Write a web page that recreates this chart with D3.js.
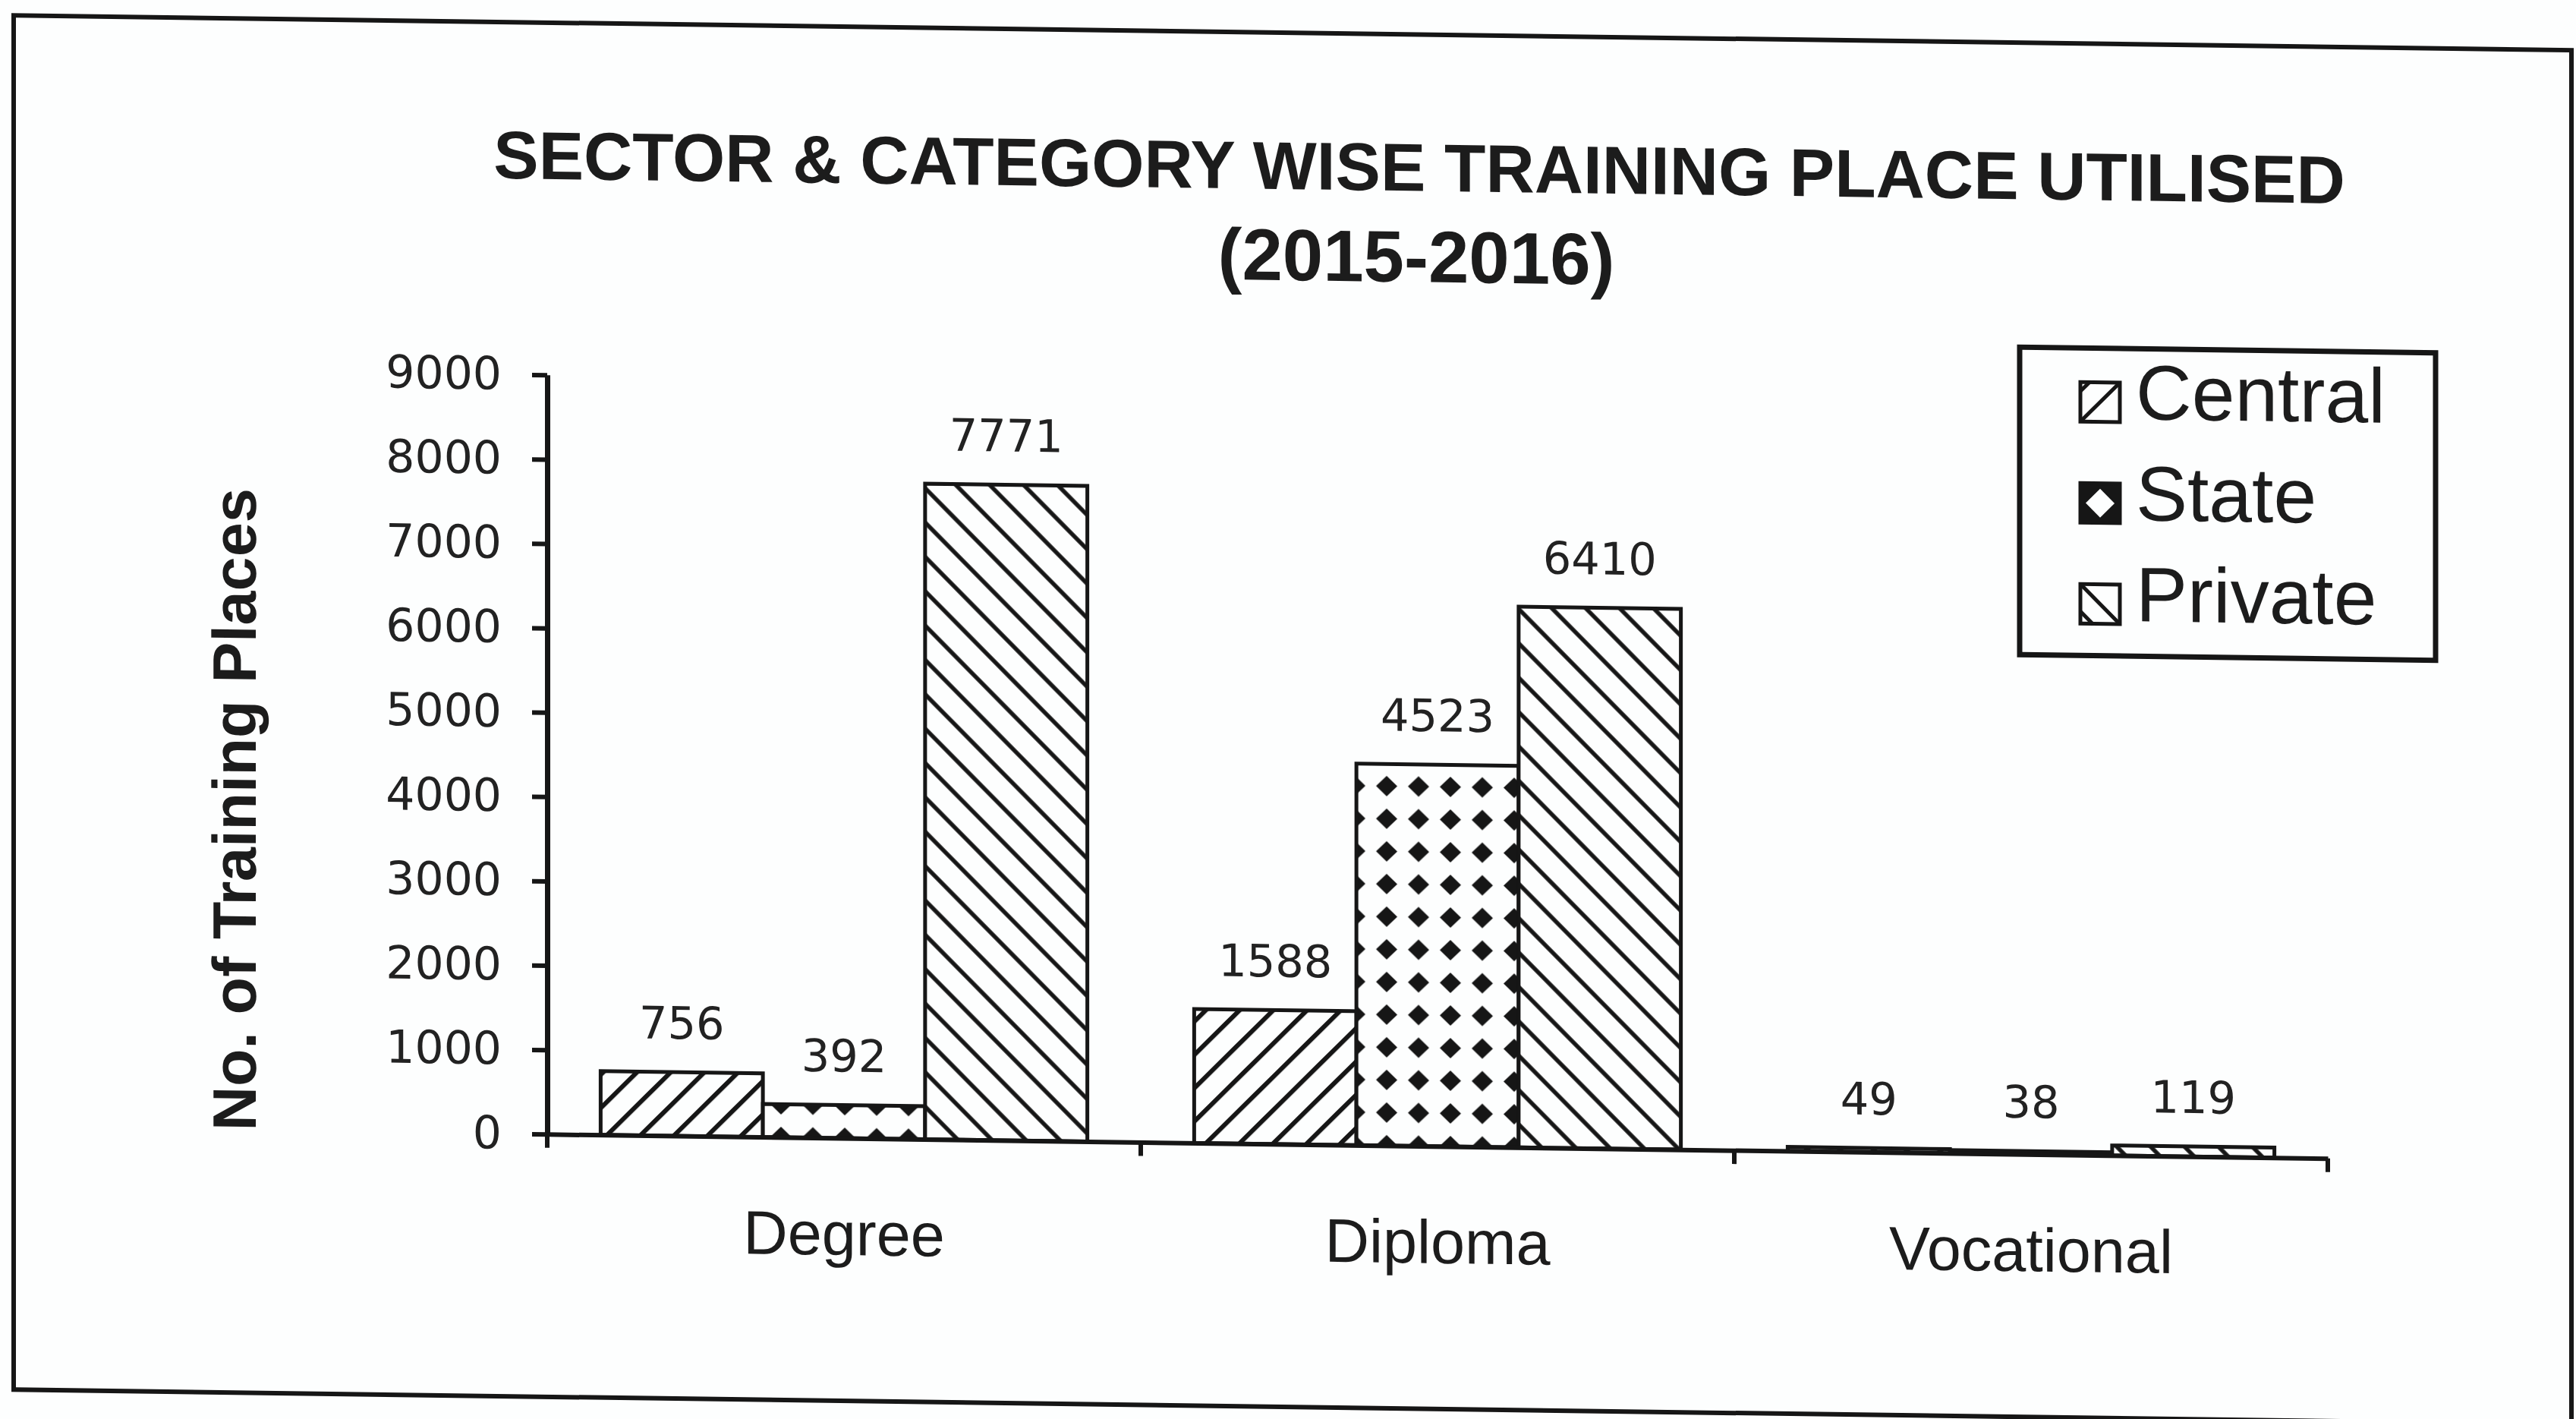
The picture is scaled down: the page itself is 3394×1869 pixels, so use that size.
<!DOCTYPE html>
<html>
<head>
<meta charset="utf-8">
<script src="https://cdn.jsdelivr.net/npm/d3@7"></script>
<style>
  html, body { margin: 0; padding: 0; background: #fdfefe; }
  svg { display: block; }
</style>
</head>
<body>
<svg id="chart" width="3394" height="1869"></svg>
<script>
// ---- data ----
const categories = ["Degree", "Diploma", "Vocational"];
const seriesNames = ["Central", "State", "Private"];
const centralValues = [756, 1588, 49];
const stateValues = [392, 4523, 38];
const privateValues = [7771, 6410, 119];
const yTickValues = [0, 1000, 2000, 3000, 4000, 5000, 6000, 7000, 8000, 9000];
const titleLine1 = "SECTOR & CATEGORY WISE TRAINING PLACE UTILISED";
const titleLine2 = "(2015-2016)";
const yAxisTitle = "No. of Training Places";

const seriesValues = { Central: centralValues, State: stateValues, Private: privateValues };
const rows = [];
categories.forEach((c, i) => seriesNames.forEach(s => rows.push({ cat: c, ser: s, val: seriesValues[s][i] })));

// ---- layout ----
const W = 3394, H = 1869;
const plot = { left: 721, right: 3067, top: 484, bottom: 1484 };
const ink = "#161616";
const sans = "'Liberation Sans', Arial, Helvetica, sans-serif";
const numFont = "'DejaVu Sans', 'Liberation Sans', sans-serif";

const svg = d3.select("#chart");
svg.append("rect").attr("width", W).attr("height", H).attr("fill", "#fdfefe");

// patterns
const defs = svg.append("defs");
const pc = defs.append("pattern").attr("id", "pCentral").attr("patternUnits", "userSpaceOnUse")
  .attr("width", 31).attr("height", 31).attr("patternTransform", "rotate(45)");
pc.append("rect").attr("width", 31).attr("height", 31).attr("fill", "#fdfefe");
pc.append("line").attr("x1", 3).attr("x2", 3).attr("y1", -2).attr("y2", 33).attr("stroke", ink).attr("stroke-width", 6);

const pp = defs.append("pattern").attr("id", "pPrivate").attr("patternUnits", "userSpaceOnUse")
  .attr("width", 32).attr("height", 32).attr("patternTransform", "rotate(-45)");
pp.append("rect").attr("width", 32).attr("height", 32).attr("fill", "#fdfefe");
pp.append("line").attr("x1", 3).attr("x2", 3).attr("y1", -2).attr("y2", 34).attr("stroke", ink).attr("stroke-width", 5.5);

const ps = defs.append("pattern").attr("id", "pState").attr("patternUnits", "userSpaceOnUse")
  .attr("width", 42).attr("height", 43);
ps.append("rect").attr("width", 42).attr("height", 43).attr("fill", "#fdfefe");
ps.append("path").attr("d", "M21,8 L35,21.5 L21,35 L7,21.5 Z").attr("fill", ink);

const fills = { Central: "url(#pCentral)", State: "url(#pState)", Private: "url(#pPrivate)" };

// sheared group to match the scanned page
const g = svg.append("g").attr("transform", "skewY(0.78)");

// outer frame
g.append("rect").attr("x", 18).attr("y", 20).attr("width", 3370).attr("height", 1810)
  .attr("fill", "none").attr("stroke", ink).attr("stroke-width", 6);

// scales
const x0 = d3.scaleBand().domain(categories).range([plot.left, plot.right]).paddingInner(0.18).paddingOuter(0.09);
const x1 = d3.scaleBand().domain(seriesNames).range([0, x0.bandwidth()]);
const y = d3.scaleLinear().domain([0, 9000]).range([plot.bottom, plot.top]);

// bars
g.append("g").selectAll("rect").data(rows).join("rect")
  .attr("x", d => x0(d.cat) + x1(d.ser))
  .attr("y", d => y(d.val))
  .attr("width", x1.bandwidth())
  .attr("height", d => y(0) - y(d.val))
  .attr("fill", d => fills[d.ser])
  .attr("stroke", ink).attr("stroke-width", 5);

// value labels
g.append("g").selectAll("text").data(rows).join("text")
  .attr("x", d => x0(d.cat) + x1(d.ser) + x1.bandwidth() / 2)
  .attr("y", d => y(d.val) - 44)
  .attr("text-anchor", "middle")
  .attr("font-family", numFont).attr("font-size", 59).attr("fill", "#222")
  .text(d => d.val);

// y axis
const yAxis = g.append("g").attr("transform", `translate(${plot.left},0)`)
  .call(d3.axisLeft(y).tickValues(yTickValues).tickSize(20).tickSizeOuter(0).tickPadding(40).tickFormat(d3.format("d")));
yAxis.select(".domain").attr("stroke", ink).attr("stroke-width", 7);
yAxis.selectAll(".tick line").attr("stroke", ink).attr("stroke-width", 6);
yAxis.selectAll(".tick text").attr("font-family", numFont).attr("font-size", 60).attr("fill", "#222");

// x axis (labels at band centres)
const xAxis = g.append("g").attr("transform", `translate(0,${plot.bottom})`)
  .call(d3.axisBottom(x0).tickSize(0).tickSizeOuter(0));
xAxis.select(".domain").attr("stroke", ink).attr("stroke-width", 6);
xAxis.selectAll(".tick text").attr("y", 154).attr("dy", 0)
  .attr("font-family", sans).attr("font-size", 81).attr("fill", "#1c1c1c");

// category boundary ticks
const boundaries = d3.range(categories.length + 1).map(i => plot.left + i * x0.step());
g.append("g").selectAll("line").data(boundaries).join("line")
  .attr("x1", d => d).attr("x2", d => d)
  .attr("y1", plot.bottom).attr("y2", plot.bottom + 18)
  .attr("stroke", ink).attr("stroke-width", 6);

// y axis title
g.append("text")
  .attr("transform", `translate(337,1062) rotate(-90)`)
  .attr("text-anchor", "middle")
  .attr("font-family", sans).attr("font-weight", "bold").attr("font-size", 81).attr("fill", "#1c1c1c")
  .text(yAxisTitle);

// title
g.append("text").attr("x", 1870).attr("y", 226).attr("text-anchor", "middle")
  .attr("font-family", sans).attr("font-weight", "bold").attr("font-size", 89).attr("fill", "#1c1c1c")
  .text(titleLine1);
g.append("text").attr("x", 1866).attr("y", 346).attr("text-anchor", "middle")
  .attr("font-family", sans).attr("font-weight", "bold").attr("font-size", 96).attr("fill", "#1c1c1c")
  .text(titleLine2);

// legend
const lg = g.append("g").attr("transform", "translate(2661,421)");
lg.append("rect").attr("width", 548).attr("height", 405)
  .attr("fill", "#fdfefe").attr("stroke", ink).attr("stroke-width", 7);
const items = lg.selectAll("g.item").data(seriesNames).join("g").attr("class", "item")
  .attr("transform", (d, i) => `translate(80,${45 + i * 133})`);
const sw = 52;
items.append("rect").attr("width", sw).attr("height", sw)
  .attr("fill", d => d === "State" ? ink : "#fdfefe")
  .attr("stroke", ink).attr("stroke-width", 5);
items.filter(d => d === "Central").append("path")
  .attr("d", `M0,${sw} L${sw},0 M0,12 L12,0`).attr("stroke", ink).attr("stroke-width", 5);
items.filter(d => d === "State").append("path")
  .attr("d", `M${sw/2},7 L${sw-7},${sw/2} L${sw/2},${sw-7} L7,${sw/2} Z`).attr("fill", "#fdfefe");
items.filter(d => d === "Private").append("path")
  .attr("d", `M0,0 L${sw},${sw} M0,${sw-16} L16,${sw}`).attr("stroke", ink).attr("stroke-width", 5);
items.append("text").attr("x", 73).attr("y", 48)
  .attr("font-family", sans).attr("font-size", 102).attr("fill", "#1c1c1c")
  .text(d => d);
</script>
</body>
</html>
